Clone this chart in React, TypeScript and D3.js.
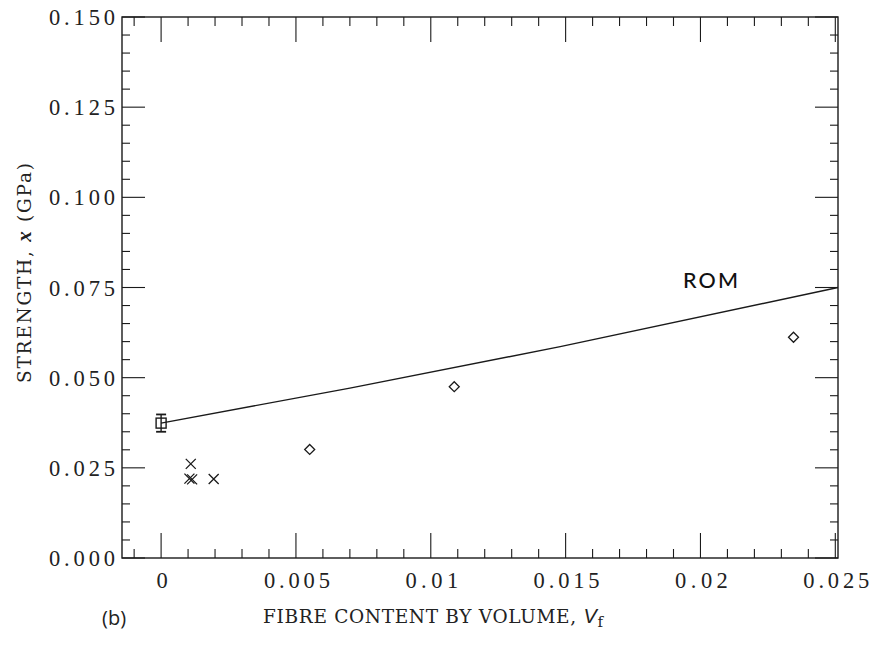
import React from "react";
import * as d3 from "d3";

// ---- data ----
const xTickValues = [0, 0.005, 0.01, 0.015, 0.02, 0.025];
const xTickLabels = ["0", "0.005", "0.01", "0.015", "0.02", "0.025"];
const yTickValues = [0, 0.025, 0.05, 0.075, 0.1, 0.125, 0.15];
const yTickLabels = ["0.000", "0.025", "0.050", "0.075", "0.100", "0.125", "0.150"];

// matrix (Vf = 0) with error bar
const squareX = [0];
const squareY = [0.0374];
const squareErr = [0.0024];

// crosses
const crossX = [0.0011, 0.00105, 0.00115, 0.00195];
const crossY = [0.0261, 0.022, 0.0218, 0.0219];

// diamonds
const diamondX = [0.00551, 0.01087, 0.02345];
const diamondY = [0.0301, 0.0475, 0.0612];

// rule of mixtures curve
const romX = [0, 0.007, 0.0148, 0.0251];
const romY = [0.0374, 0.0471, 0.0586, 0.075];

const W = 881;
const H = 655;
const L = 122, R = 838, T = 17, B = 558;

export default function App() {
  const x = d3.scaleLinear().domain([-0.00145, 0.0251]).range([L, R]);
  const y = d3.scaleLinear().domain([0, 0.15]).range([B, T]);

  const xMinor = d3.range(-1, 26).map((i) => i / 1000);
  const yMinor = d3.range(0, 31).map((i) => i / 200);
  const isMajorX = (v: number) => Math.abs(Math.round(v * 200) - v * 200) < 1e-6;
  const isMajorY = (v: number) => Math.abs(Math.round(v * 40) - v * 40) < 1e-6;

  const line = d3
    .line<number>()
    .x((_, i) => x(romX[i]))
    .y((_, i) => y(romY[i]))
    .curve(d3.curveMonotoneX);

  const stroke = "#1a1a1a";
  const tickFont = "'Liberation Serif', serif";
  const charW = 13.2;

  return (
    <svg
      width={W}
      height={H}
      style={{ position: "absolute", left: 0, top: 0, background: "#fff" }}
    >
      <rect x={0} y={0} width={W} height={H} fill="#fff" />
      {/* frame */}
      <rect x={L} y={T} width={R - L} height={B - T} fill="none" stroke={stroke} strokeWidth={1.4} />

      {/* x ticks bottom & top */}
      {xMinor.map((v, i) => {
        const len = isMajorX(v) ? 25 : 9;
        const px = x(v);
        return (
          <g key={"xt" + i}>
            <line x1={px} x2={px} y1={B} y2={B - len} stroke={stroke} strokeWidth={1.1} />
            <line x1={px} x2={px} y1={T} y2={T + len} stroke={stroke} strokeWidth={1.1} />
          </g>
        );
      })}
      {/* y ticks left & right */}
      {yMinor.map((v, i) => {
        const len = isMajorY(v) ? 23 : 8;
        const py = y(v);
        return (
          <g key={"yt" + i}>
            <line x1={L} x2={L + len} y1={py} y2={py} stroke={stroke} strokeWidth={1.1} />
            <line x1={R} x2={R - len} y1={py} y2={py} stroke={stroke} strokeWidth={1.1} />
          </g>
        );
      })}

      {/* x tick labels */}
      {xTickValues.map((v, i) => (
        <text
          key={"xl" + i}
          x={x(v) + 1}
          y={588}
          textAnchor="middle"
          fontFamily={tickFont}
          fontSize={22.5}
          fill="#222"
          {...(xTickLabels[i].length > 1
            ? { textLength: xTickLabels[i].length * charW, lengthAdjust: "spacing" }
            : {})}
        >
          {xTickLabels[i]}
        </text>
      ))}
      {/* y tick labels */}
      {yTickValues.map((v, i) => (
        <text
          key={"yl" + i}
          x={115}
          y={y(v) + 8}
          textAnchor="end"
          fontFamily={tickFont}
          fontSize={22.5}
          fill="#222"
          textLength={yTickLabels[i].length * charW}
          lengthAdjust="spacing"
        >
          {yTickLabels[i]}
        </text>
      ))}

      {/* ROM line */}
      <path d={line(romX) || ""} fill="none" stroke={stroke} strokeWidth={1.4} />
      <text
        x={683}
        y={288}
        fontFamily="Lato, 'Open Sans', sans-serif"
        fontSize={21.5}
        fontWeight={500}
        fill="#111"
        textLength={55}
        lengthAdjust="spacing"
      >
        ROM
      </text>

      {/* square with error bar */}
      {squareX.map((v, i) => {
        const cx = x(v);
        const cy = y(squareY[i]);
        const top = y(squareY[i] + squareErr[i]);
        const bot = y(squareY[i] - squareErr[i]);
        return (
          <g key={"sq" + i} stroke={stroke} fill="none" strokeWidth={1.4}>
            <line x1={cx} x2={cx} y1={top} y2={bot} />
            <line x1={cx - 5} x2={cx + 5} y1={top} y2={top} strokeWidth={1.8} />
            <line x1={cx - 5} x2={cx + 5} y1={bot} y2={bot} strokeWidth={1.8} />
            <rect x={cx - 5} y={cy - 5} width={10} height={10} />
          </g>
        );
      })}

      {/* crosses */}
      {crossX.map((v, i) => {
        const cx = x(v);
        const cy = y(crossY[i]);
        const s = 5;
        return (
          <path
            key={"cr" + i}
            d={`M${cx - s},${cy - s}L${cx + s},${cy + s}M${cx - s},${cy + s}L${cx + s},${cy - s}`}
            stroke={stroke}
            strokeWidth={1.3}
            fill="none"
          />
        );
      })}

      {/* diamonds */}
      {diamondX.map((v, i) => {
        const cx = x(v);
        const cy = y(diamondY[i]);
        const s = 5;
        return (
          <path
            key={"dm" + i}
            d={`M${cx},${cy - s}L${cx + s},${cy}L${cx},${cy + s}L${cx - s},${cy}Z`}
            stroke={stroke}
            strokeWidth={1.3}
            fill="none"
          />
        );
      })}

      {/* y axis title */}
      <text
        transform="translate(31,273) rotate(-90)"
        textAnchor="middle"
        fontFamily="'DejaVu Serif', serif"
        fontSize={18.5}
        fill="#222"
        textLength={220}
        lengthAdjust="spacing"
      >
        STRENGTH,{" "}
        <tspan fontStyle="italic" fontWeight="bold" fontFamily="'Liberation Serif', serif" fontSize={21}>
          x
        </tspan>{" "}
        (GPa)
      </text>

      {/* x axis title */}
      <text
        x={263}
        y={623}
        fontFamily="'DejaVu Serif', serif"
        fontSize={18.5}
        fill="#222"
        textLength={340}
        lengthAdjust="spacing"
      >
        FIBRE CONTENT BY VOLUME,{" "}
        <tspan fontStyle="italic" fontFamily="'Liberation Sans', sans-serif" fontSize={20}>
          V
        </tspan>
        <tspan fontSize={15} dy={4}>
          f
        </tspan>
      </text>

      {/* panel label */}
      <text x={102} y={625} fontFamily="'Open Sans', sans-serif" fontSize={20} fill="#222">
        (b)
      </text>
    </svg>
  );
}
